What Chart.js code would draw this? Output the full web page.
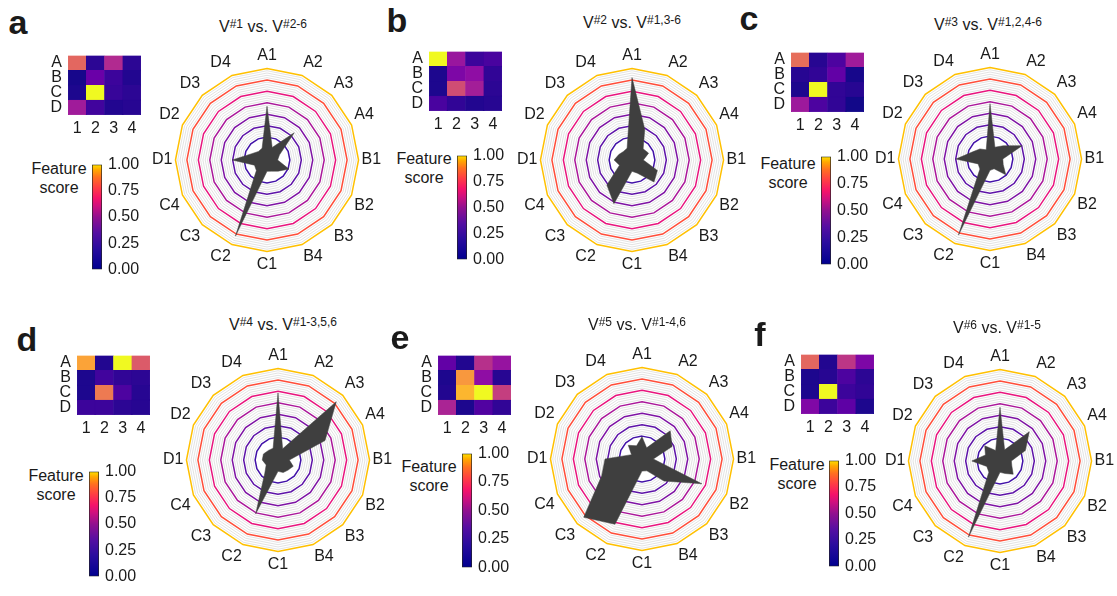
<!DOCTYPE html>
<html>
<head>
<meta charset="utf-8">
<script src="https://cdn.jsdelivr.net/npm/chart.js@4.4.0/dist/chart.umd.min.js"></script>
<style>
  body { margin: 0; background: #fff; font-family: "Liberation Sans", Arial, sans-serif; color: #1a1a1a; }
  #fig { position: relative; width: 1117px; height: 596px; overflow: hidden; }
  #fig canvas { position: absolute; }
  .txt { position: absolute; transform: translate(-50%, -50%); white-space: nowrap; }
  .letter { font-weight: bold; font-size: 34px; }
  .title { font-size: 16px; }
  .title sup { font-size: 12px; position: relative; top: -0.3em; vertical-align: baseline; line-height: 0; }
  .cblabel { font-size: 16px; line-height: 19px; text-align: center; }
</style>
</head>
<body>
<div id="fig"></div>
<script>
// grid labels
const rowLabels = ['A', 'B', 'C', 'D'];
const colLabels = ['1', '2', '3', '4'];
const featureLabels = ['A1', 'A2', 'A3', 'A4', 'B1', 'B2', 'B3', 'B4',
                       'C1', 'C2', 'C3', 'C4', 'D1', 'D2', 'D3', 'D4'];
const cbarTicks = [0, 0.25, 0.5, 0.75, 1];

const panelLetters = ['a', 'b', 'c', 'd', 'e', 'f'];
const titleSelf = ['#1', '#2', '#3', '#4', '#5', '#6'];
const titleOthers = ['#2-6', '#1,3-6', '#1,2,4-6', '#1-3,5,6', '#1-4,6', '#1-5'];

// feature scores, A1..A4, B1..B4, C1..C4, D1..D4
const scoresA = [0.61, 0.06, 0.40, 0.06, 0.02, 0.20, 0.09, 0.04, 0.03, 1.00, 0.08, 0.06, 0.35, 0.10, 0.04, 0.05];
const scoresB = [1.00, 0.33, 0.09, 0.12, 0.03, 0.25, 0.30, 0.07, 0.03, 0.52, 0.36, 0.06, 0.12, 0.07, 0.04, 0.05];
const scoresC = [0.63, 0.05, 0.13, 0.35, 0.05, 0.07, 0.18, 0.02, 0.03, 1.00, 0.07, 0.05, 0.34, 0.13, 0.07, 0.01];
const scoresD = [0.79, 0.04, 1.00, 0.57, 0.03, 0.10, 0.07, 0.06, 0.03, 0.67, 0.13, 0.05, 0.09, 0.09, 0.06, 0.05];
const scoresE = [0.18, 0.04, 0.42, 0.32, 0.03, 0.76, 0.30, 0.05, 0.04, 0.84, 1.00, 0.47, 0.38, 0.03, 0.14, 0.07];
const scoresF = [0.61, 0.04, 0.44, 0.25, 0.03, 0.05, 0.13, 0.06, 0.03, 1.00, 0.09, 0.07, 0.26, 0.09, 0.17, 0.03];
const allScores = [scoresA, scoresB, scoresC, scoresD, scoresE, scoresF];

// where each panel's pieces sit on the page
const layout = [
  { letter: [18, 22],  title: [263, 27],  heat: [68, 42],   cbar: [92, 159, 275],  cbLabel: [59, 178],  radar: [267, 160] },
  { letter: [397, 20], title: [632, 23],  heat: [429, 38],  cbar: [457, 150, 265], cbLabel: [424, 168], radar: [632, 160] },
  { letter: [749, 18], title: [988, 25],  heat: [791, 39],  cbar: [821, 151, 270], cbLabel: [788, 173], radar: [990, 159] },
  { letter: [27, 339], title: [283, 325], heat: [77, 342],  cbar: [89, 466, 582],  cbLabel: [56, 485],  radar: [278, 460] },
  { letter: [400, 337], title: [637, 325], heat: [438, 342], cbar: [462, 448, 573], cbLabel: [429, 476], radar: [642, 459] },
  { letter: [760, 334], title: [997, 328], heat: [801, 341], cbar: [829, 455, 572], cbLabel: [797, 474], radar: [1000, 461] },
];

const FONT = "'Liberation Sans', Arial, sans-serif";
const INK = '#1a1a1a';
const FS = 16;
Chart.defaults.font.family = FONT;
Chart.defaults.color = INK;

const plasmaStops = [[0, '#0d0887'], [0.1, '#41049d'], [0.2, '#6a00a8'], [0.3, '#8f0da4'], [0.4, '#b12a90'],
  [0.5, '#cc4778'], [0.6, '#e16462'], [0.7, '#f2844b'], [0.8, '#fca636'], [0.9, '#fcce25'], [1, '#f0f921']];
const cbarStops = [[0, '#00008f'], [0.2, '#2a0c9e'], [0.35, '#550ea2'], [0.5, '#92108f'], [0.6, '#cc1080'],
  [0.68, '#f5126a'], [0.78, '#ff3c45'], [0.88, '#ff7020'], [0.95, '#ffa800'], [1, '#ffe000']];
// rings every 5th grid step, inner to outer
const ringColors = { 10: '#4212a8', 15: '#5e14a8', 20: '#7e14a4', 25: '#aa189a', 30: '#e8157e', 35: '#ff4e3a', 40: '#ffc000' };

function hexRgb(h) {
  return [parseInt(h.slice(1, 3), 16), parseInt(h.slice(3, 5), 16), parseInt(h.slice(5, 7), 16)];
}
function colormap(stops, v) {
  v = Math.max(0, Math.min(1, v));
  for (let i = 1; i < stops.length; i++) {
    if (v <= stops[i][0]) {
      const [v0, c0] = stops[i - 1];
      const [v1, c1] = stops[i];
      const t = (v - v0) / (v1 - v0);
      const a = hexRgb(c0), b = hexRgb(c1);
      const rgb = a.map((x, k) => Math.round(x + (b[k] - x) * t));
      return `rgb(${rgb.join(',')})`;
    }
  }
  return stops[stops.length - 1][1];
}

const fig = document.getElementById('fig');

function addCanvas(left, top, w, h) {
  const c = document.createElement('canvas');
  c.width = w; c.height = h;
  c.style.left = left + 'px'; c.style.top = top + 'px';
  c.style.width = w + 'px'; c.style.height = h + 'px';
  fig.appendChild(c);
  return c;
}
function addText(cls, x, y, html) {
  const d = document.createElement('div');
  d.className = 'txt ' + cls;
  d.style.left = x + 'px'; d.style.top = y + 'px';
  d.innerHTML = html;
  fig.appendChild(d);
}

const baseOpts = {
  responsive: false,
  animation: false,
  events: [],
  plugins: { legend: { display: false }, tooltip: { enabled: false } },
};

function heatmap(pos, scores) {
  const size = 73, yAxisW = 26, xAxisH = 26;
  const cv = addCanvas(pos[0] - yAxisW, pos[1] - 2, yAxisW + size + 2, size + xAxisH + 2);
  // one stacked dataset per row, bottom row (D) first
  const datasets = [3, 2, 1, 0].map(r => {
    const cols = colLabels.map((_, c) => colormap(plasmaStops, scores[r * 4 + c]));
    return {
      data: colLabels.map(() => 1),
      backgroundColor: cols,
      borderColor: cols,
      borderWidth: 0.5,
      borderSkipped: false,
      barPercentage: 1,
      categoryPercentage: 1,
    };
  });
  new Chart(cv, {
    type: 'bar',
    data: { labels: colLabels, datasets },
    options: {
      ...baseOpts,
      layout: { padding: { top: 2, right: 2, left: 0, bottom: 0 } },
      scales: {
        x: {
          stacked: true,
          grid: { display: false, drawTicks: false },
          border: { display: false },
          ticks: { font: { size: FS }, color: INK, padding: 4, maxRotation: 0, autoSkip: false },
          afterFit: s => { s.height = xAxisH; },
        },
        y: {
          stacked: true, min: 0, max: 4,
          grid: { display: false, drawTicks: false },
          border: { display: false },
          ticks: { font: { size: FS }, color: INK, padding: 6, autoSkip: false,
                   callback: v => rowLabels[3 - Math.floor(v)] },
          afterBuildTicks: s => { s.ticks = [0.5, 1.5, 2.5, 3.5].map(v => ({ value: v })); },
          afterFit: s => { s.width = yAxisW; },
        },
      },
    },
  });
}

function colorbar(bar) {
  const [x, top, bottom] = bar;
  const barW = 10, axisW = 50, pad = 10;
  const cv = addCanvas(x, top - pad, barW + axisW, bottom - top + 2 * pad);
  new Chart(cv, {
    type: 'bar',
    data: {
      labels: [''],
      datasets: [{
        data: [1],
        backgroundColor: ctx => {
          const area = ctx.chart.chartArea;
          if (!area) return '#888';
          const g = ctx.chart.ctx.createLinearGradient(0, area.bottom, 0, area.top);
          cbarStops.forEach(([v, c]) => g.addColorStop(v, c));
          return g;
        },
        borderColor: '#222',
        borderWidth: 1,
        borderSkipped: false,
        barPercentage: 1,
        categoryPercentage: 1,
      }],
    },
    options: {
      ...baseOpts,
      layout: { padding: { top: pad, bottom: pad, left: 0, right: 0 } },
      scales: {
        x: { display: false },
        y: {
          position: 'right', min: 0, max: 1,
          grid: { display: false, drawTicks: false },
          border: { display: false },
          ticks: { font: { size: FS }, color: INK, padding: 6, autoSkip: false, callback: v => v.toFixed(2) },
          afterBuildTicks: s => { s.ticks = cbarTicks.map(v => ({ value: v })); },
          afterFit: s => { s.width = axisW; },
        },
      },
    },
  });
}

function radar(center, scores) {
  const S = 230;
  const cv = addCanvas(center[0] - S / 2, center[1] - S / 2, S, S);
  new Chart(cv, {
    type: 'radar',
    data: {
      labels: featureLabels,
      datasets: [{
        data: scores,
        backgroundColor: '#3f3f3f',
        borderColor: '#3f3f3f',
        borderWidth: 0.5,
        pointRadius: 0,
        fill: 'start',
      }],
    },
    options: {
      ...baseOpts,
      scales: {
        r: {
          min: -0.125, max: 1.125,
          ticks: { display: false, stepSize: 0.03125 },
          angleLines: { display: false },
          grid: {
            color: ctx => ctx.index < 10 ? 'rgba(0,0,0,0)' : (ringColors[ctx.index] || '#dcdcdc'),
            lineWidth: ctx => ringColors[ctx.index] ? 1.5 : 0.8,
          },
          pointLabels: { font: { size: FS }, color: INK, padding: 3 },
        },
      },
    },
  });
}

layout.forEach((p, i) => {
  addText('letter', p.letter[0], p.letter[1], panelLetters[i]);
  addText('title', p.title[0], p.title[1], `V<sup>${titleSelf[i]}</sup> vs. V<sup>${titleOthers[i]}</sup>`);
  addText('cblabel', p.cbLabel[0], p.cbLabel[1], 'Feature<br>score');
  heatmap(p.heat, allScores[i]);
  colorbar(p.cbar);
  radar(p.radar, allScores[i]);
});
</script>
</body>
</html>
